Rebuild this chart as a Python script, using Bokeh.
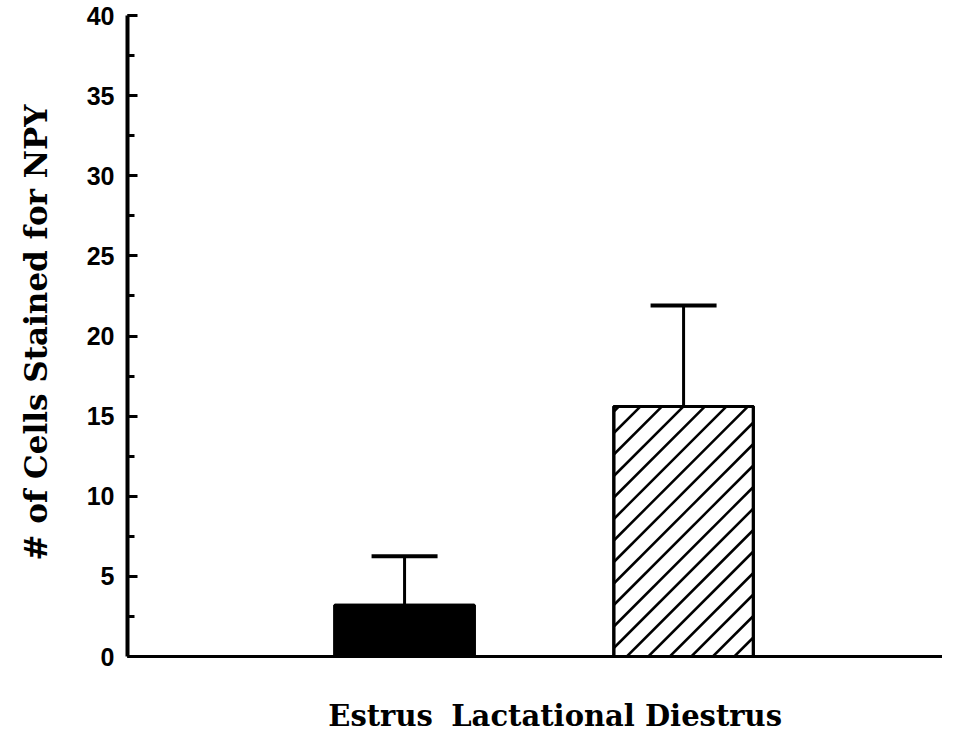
import math
from bokeh.plotting import figure
from bokeh.models import (Range1d, FixedTicker, SingleIntervalTicker, ColumnDataSource,
                          Whisker, TeeHead)
from bokeh.embed import file_html
from bokeh.resources import INLINE

# ---- data ----
categories = ["Estrus", "Lactational Diestrus"]
means = [3.2, 15.6]
sems = [3.05, 6.3]
y_ticks = [0, 5, 10, 15, 20, 25, 30, 35, 40]
y_title = "# of Cells Stained for NPY"

# ---- layout / style ----
FW, FH = 815, 648
XR = (0.007, 2.928)
YR = (0, 40.44)
BAR_W = 0.5
positions = [i + 1 for i in range(len(categories))]
label_shift = [-0.086, -0.24]  # label placement offsets (data units)
label_pos = [round(p + s, 3) for p, s in zip(positions, label_shift)]
hatched = [False, True]
HATCH_SPACING = 21.5  # px, horizontal spacing of 45-degree lines
HATCH_PHASE = 13      # px

p = figure(frame_width=FW, frame_height=FH, output_backend="svg", toolbar_location=None,
           x_range=Range1d(*XR), y_range=Range1d(*YR),
           min_border_left=127, min_border_top=8, min_border_right=0,
           background_fill_color="white", border_fill_color="white")
p.outline_line_color = None
p.grid.visible = False

src = ColumnDataSource(dict(x=positions, top=means, upper=[m + s for m, s in zip(means, sems)],
                            fill=["white" if h else "black" for h in hatched]))

p.vbar(x="x", top="top", width=BAR_W, bottom=0, source=src, fill_color="fill",
       line_color="black", line_width=3)

# 45-degree hatch lines computed from the bar geometry
px_x = FW / (XR[1] - XR[0])
px_y = FH / (YR[1] - YR[0])
hx, hy = [], []
for xc, top, h in zip(positions, means, hatched):
    if not h:
        continue
    x0 = xc - BAR_W / 2
    W = BAR_W * px_x
    H = top * px_y
    k0 = math.floor((-H - HATCH_PHASE) / HATCH_SPACING)
    k1 = math.ceil((W - HATCH_PHASE) / HATCH_SPACING)
    for k in range(k0, k1 + 1):
        c = HATCH_PHASE + k * HATCH_SPACING
        us, ue = max(0.0, c), min(W, H + c)
        if ue - us > 0.5:
            hx.append([x0 + us / px_x, x0 + ue / px_x])
            hy.append([(us - c) / px_y, (ue - c) / px_y])
p.multi_line(hx, hy, line_color="black", line_width=2.5)

p.vbar(x="x", top="top", width=BAR_W, bottom=0, source=src, fill_color=None,
       line_color="black", line_width=3)

w = Whisker(base="x", lower="top", upper="upper", source=src, dimension="height",
            line_width=3, line_color="black",
            upper_head=TeeHead(size=66, line_width=4, line_color="black"), lower_head=None)
p.add_layout(w)

# y axis
ya = p.yaxis[0]
ya.ticker = SingleIntervalTicker(interval=5, num_minor_ticks=2)
ya.bounds = (0, 40)
ya.axis_line_width = 4
ya.major_tick_in = 10
ya.major_tick_out = 0
ya.minor_tick_in = 7
ya.minor_tick_out = 0
ya.major_tick_line_width = 3
ya.minor_tick_line_width = 3
ya.major_label_text_font = "Liberation Sans"
ya.major_label_text_font_style = "bold"
ya.major_label_text_font_size = "25px"
ya.major_label_text_color = "black"
ya.major_label_standoff = 13
ya.axis_label = y_title
ya.axis_label_text_font = "DejaVu Serif"
ya.axis_label_text_font_style = "bold"
ya.axis_label_text_font_size = "31px"
ya.axis_label_text_color = "black"
ya.axis_label_standoff = 30

# x axis
xa = p.xaxis[0]
xa.ticker = FixedTicker(ticks=label_pos)
xa.major_label_overrides = {lp: c for lp, c in zip(label_pos, categories)}
xa.axis_line_width = 3
xa.major_tick_line_color = None
xa.minor_tick_line_color = None
xa.major_tick_out = 0
xa.major_tick_in = 0
xa.major_label_text_font = "DejaVu Serif"
xa.major_label_text_font_style = "bold"
xa.major_label_text_font_size = "29px"
xa.major_label_text_color = "black"
xa.major_label_standoff = 42

open("out.html", "w").write(file_html(p, INLINE))
